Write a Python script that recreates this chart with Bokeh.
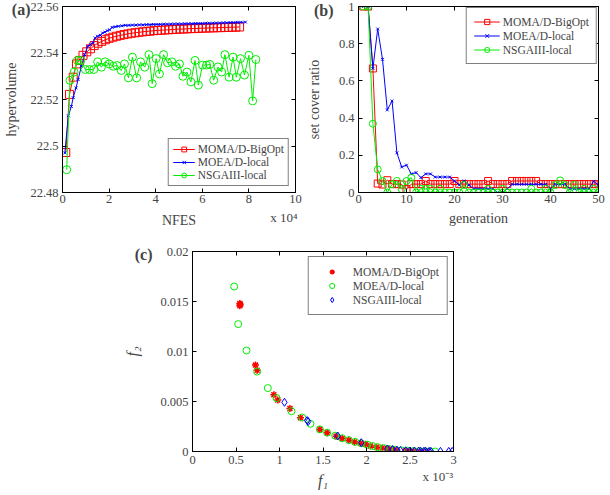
from bokeh.plotting import figure
from bokeh.models import Range1d, FixedTicker, LinearAxis, Legend, LegendItem, Spacer
from bokeh.layouts import column, row
from bokeh.embed import file_html
from bokeh.resources import INLINE

FONT = "Liberation Serif"
RED, BLUE, GREEN = "#ff0000", "#0000ff", "#00ee00"
NAMES = ["MOMA/D-BigOpt", "MOEA/D-local", "NSGAIII-local"]

# ---------------- panel (a): hypervolume vs NFES (x 10^4) ----------------
a_red_x = [0.14, 0.30, 0.46, 0.60, 0.74, 0.88, 1.04, 1.20, 1.36, 1.52,
           1.68, 1.84, 2.00, 2.16, 2.32, 2.48, 2.64, 2.80, 2.96, 3.12,
           3.28, 3.44, 3.60, 3.76, 3.92, 4.08, 4.24, 4.40, 4.56, 4.72,
           4.88, 5.04, 5.20, 5.36, 5.52, 5.68, 5.84, 6.00, 6.16, 6.32,
           6.48, 6.64, 6.80, 6.96, 7.12, 7.28, 7.44, 7.60]
a_red_y = [22.4972, 22.5222, 22.5296, 22.5353, 22.5368, 22.5390, 22.5405, 22.5418, 22.5432, 22.5442,
           22.5450, 22.5457, 22.5463, 22.5468, 22.5472, 22.5476, 22.5479, 22.5482, 22.5485, 22.5487,
           22.5489, 22.5491, 22.5493, 22.5494, 22.5496, 22.5497, 22.5498, 22.5499, 22.5500, 22.5501,
           22.5502, 22.5503, 22.5503, 22.5504, 22.5505, 22.5505, 22.5506, 22.5507, 22.5507, 22.5508,
           22.5508, 22.5509, 22.5509, 22.5510, 22.5510, 22.5511, 22.5511, 22.5512]
a_blue_x = [0.10, 0.25, 0.38, 0.46, 0.58, 0.67, 0.81, 0.95, 1.09, 1.20,
            1.30, 1.40, 1.50, 1.62, 1.72, 1.82, 1.92, 2.02, 2.13, 2.26,
            2.40, 2.55, 2.70, 2.85, 3.00, 3.15, 3.30, 3.45, 3.60, 3.75,
            3.90, 4.05, 4.20, 4.35, 4.50, 4.65, 4.80, 4.95, 5.10, 5.25,
            5.40, 5.55, 5.70, 5.85, 6.00, 6.15, 6.30, 6.45, 6.60, 6.75,
            6.90, 7.05, 7.20, 7.35, 7.50, 7.65, 7.85]
a_blue_y = [22.4970, 22.5130, 22.5170, 22.5208, 22.5250, 22.5286, 22.5343, 22.5393, 22.5429, 22.5436,
            22.5443, 22.5465, 22.5472, 22.5476, 22.5486, 22.5490, 22.5496, 22.5500, 22.5510, 22.5513,
            22.5515, 22.5517, 22.5519, 22.5519, 22.5520, 22.5520, 22.5521, 22.5521, 22.5522, 22.5522,
            22.5523, 22.5523, 22.5523, 22.5524, 22.5524, 22.5524, 22.5525, 22.5525, 22.5525, 22.5526,
            22.5526, 22.5526, 22.5527, 22.5527, 22.5527, 22.5528, 22.5528, 22.5528, 22.5529, 22.5529,
            22.5530, 22.5530, 22.5531, 22.5531, 22.5532, 22.5532, 22.5533]
a_green_x = [0.18, 0.32, 0.50, 0.64, 0.78, 0.98, 1.16, 1.34, 1.51, 1.67,
             1.83, 2.00, 2.18, 2.34, 2.52, 2.66, 2.83, 3.00, 3.18, 3.35,
             3.53, 3.71, 3.85, 4.02, 4.16, 4.34, 4.51, 4.69, 4.85, 5.02,
             5.17, 5.34, 5.51, 5.69, 5.83, 6.01, 6.18, 6.32, 6.49, 6.67,
             6.83, 6.97, 7.15, 7.32, 7.46, 7.64, 7.81, 8.00, 8.16, 8.30]
a_green_y = [22.4898, 22.5282, 22.5318, 22.5368, 22.5368, 22.5329, 22.5329, 22.5329, 22.5362, 22.5339,
             22.5362, 22.5353, 22.5343, 22.5346, 22.5325, 22.5353, 22.5293, 22.5382, 22.5293, 22.5362,
             22.5339, 22.5393, 22.5268, 22.5376, 22.5310, 22.5393, 22.5358, 22.5362, 22.5343, 22.5353,
             22.5300, 22.5318, 22.5276, 22.5368, 22.5262, 22.5348, 22.5348, 22.5351, 22.5283, 22.5340,
             22.5318, 22.5393, 22.5296, 22.5382, 22.5296, 22.5376, 22.5305, 22.5390, 22.5194, 22.5372]
a_xticks = [0, 2, 4, 6, 8, 10]
a_xlabels = ["0", "2", "4", "6", "8", "10"]
a_yticks = [22.48, 22.5, 22.52, 22.54, 22.56]
a_ylabels = ["22.48", "22.5", "22.52", "22.54", "22.56"]

# ---------------- panel (b): set cover ratio vs generation ----------------
b_gen = [1, 2, 3, 4, 5, 6, 7, 8, 9, 10, 11, 12, 13, 14, 15, 16, 17, 18, 19, 20,
         21, 22, 23, 24, 25, 26, 27, 28, 29, 30, 31, 32, 33, 34, 35, 36, 37, 38, 39, 40,
         41, 42, 43, 44, 45, 46, 47, 48, 49, 50]
b_red = [1.0, 1.0, 0.667, 0.048, 0.043, 0.066, 0.045, 0.045, 0.043, 0.018,
         0.045, 0.045, 0.045, 0.062, 0.045, 0.045, 0.045, 0.045, 0.045, 0.062,
         0.045, 0.045, 0.045, 0.045, 0.045, 0.045, 0.062, 0.045, 0.045, 0.045,
         0.045, 0.062, 0.062, 0.062, 0.062, 0.062, 0.062, 0.045, 0.045, 0.045,
         0.045, 0.045, 0.045, 0.045, 0.045, 0.045, 0.045, 0.045, 0.045, 0.045]
b_blue = [1.0, 1.0, 0.667, 0.879, 0.716, 0.444, 0.492, 0.213, 0.137, 0.147,
          0.100, 0.107, 0.080, 0.100, 0.100, 0.083, 0.083, 0.083, 0.083, 0.062,
          0.040, 0.062, 0.040, 0.020, 0.020, 0.020, 0.020, 0.020, 0.0, 0.0,
          0.020, 0.044, 0.044, 0.044, 0.044, 0.044, 0.044, 0.044, 0.044, 0.020,
          0.044, 0.044, 0.044, 0.020, 0.020, 0.020, 0.020, 0.020, 0.060, 0.040]
b_green = [1.0, 1.0, 0.370, 0.124, 0.062, 0.0, 0.044, 0.062, 0.018, 0.062,
           0.080, 0.0, 0.020, 0.020, 0.020, 0.0, 0.020, 0.0, 0.0, 0.0,
           0.0, 0.040, 0.0, 0.0, 0.0, 0.0, 0.020, 0.0, 0.0, 0.020,
           0.0, 0.0, 0.0, 0.0, 0.0, 0.020, 0.0, 0.0, 0.020, 0.0,
           0.040, 0.065, 0.040, 0.0, 0.040, 0.0, 0.020, 0.0, 0.020, 0.0]
b_xticks = [0, 10, 20, 30, 40, 50]
b_xlabels = ["0", "10", "20", "30", "40", "50"]
b_yticks = [0, 0.2, 0.4, 0.6, 0.8, 1]
b_ylabels = ["0", "0.2", "0.4", "0.6", "0.8", "1"]

# ---------------- panel (c): f2 vs f1 (f1 in units of 10^-3) ----------------
c_red_f1 = [0.544, 0.544, 0.548, 0.724, 0.743, 0.935, 0.980, 1.120, 1.241, 1.464,
            1.548, 1.650, 1.720, 1.797, 1.862, 1.930, 1.989, 2.046, 2.115, 2.180,
            2.240, 2.295, 2.350, 2.448, 2.500, 2.560, 2.630, 2.700]
c_red_f2 = [0.0148, 0.01458, 0.0147, 0.00864, 0.00812, 0.00567, 0.00515, 0.0043, 0.00337, 0.00221,
            0.00188, 0.00152, 0.00129, 0.00112, 0.00096, 0.00083, 0.00073, 0.00056, 0.00043, 0.00036,
            0.00028, 0.00023, 0.00016, 0.00007, 0.00005, 0.00003, 0.00002, 0.00001]
c_green_f1 = [0.479, 0.525, 0.621, 0.743, 0.866, 0.966, 1.138, 1.262, 1.356, 1.464,
              1.548, 1.640, 1.720, 1.797, 1.870, 1.940, 2.010, 2.070, 2.130, 2.200,
              2.260, 2.330, 2.400, 2.470, 2.540, 2.600, 2.670, 2.730, 2.790]
c_green_f2 = [0.0165, 0.01274, 0.0101, 0.00799, 0.00634, 0.00535, 0.00403, 0.0034, 0.00277, 0.00221,
              0.00188, 0.00158, 0.00133, 0.00114, 0.00096, 0.00082, 0.00068, 0.00055, 0.00043, 0.00034,
              0.00025, 0.00018, 0.00012, 0.00008, 0.00005, 0.00003, 0.00002, 0.00001, 0.0]
c_blue_f1 = [1.057, 1.318, 1.330, 1.670, 1.940, 2.240, 2.300, 2.350, 2.390, 2.450,
             2.500, 2.550, 2.600, 2.620, 2.660, 2.680, 2.720, 2.740, 2.850, 2.946, 2.985]
c_blue_f2 = [0.00492, 0.0031, 0.0030, 0.00155, 0.00088, 0.00025, 0.0002, 0.00013, 0.0001, 0.00007,
             0.00005, 0.00004, 0.00003, 0.00003, 0.00002, 0.00002, 0.00001, 0.00001, 0.00001, 0.00001, 0.00001]
c_xticks = [0, 0.5, 1, 1.5, 2, 2.5, 3]
c_xlabels = ["0", "0.5", "1", "1.5", "2", "2.5", "3"]
c_yticks = [0, 0.005, 0.01, 0.015, 0.02]
c_ylabels = ["0", "0.005", "0.01", "0.015", "0.02"]

TICK_SIZE = "12.5px"
LABEL_SIZE = "14px"


def make_fig(xr, yr, fw, fh, mbl, mbr, mbt, mbb):
    p = figure(frame_width=fw, frame_height=fh, x_range=Range1d(*xr), y_range=Range1d(*yr),
               output_backend="svg", toolbar_location=None,
               min_border_left=mbl, min_border_right=mbr, min_border_top=mbt, min_border_bottom=mbb)
    p.grid.visible = False
    p.outline_line_color = "black"
    p.outline_line_width = 1
    p.background_fill_color = "white"
    p.border_fill_color = "white"
    return p


def style_axes(p, xt, xl, yt, yl, xlab=None, xstand=5, xls=2):
    xa, ya = p.xaxis[0], p.yaxis[0]
    xa.ticker = FixedTicker(ticks=xt)
    ya.ticker = FixedTicker(ticks=yt)
    xa.major_label_overrides = {float(t): s for t, s in zip(xt, xl)}
    ya.major_label_overrides = {float(t): s for t, s in zip(yt, yl)}
    for ax in (xa, ya):
        ax.major_label_text_font = FONT
        ax.major_label_text_font_size = TICK_SIZE
        ax.major_tick_in = 4
        ax.major_tick_out = 0
        ax.minor_tick_line_color = None
        ax.axis_line_color = "black"
        ax.major_tick_line_color = "black"
    if xlab:
        xa.axis_label = xlab
        xa.axis_label_text_font = FONT
        xa.axis_label_text_font_size = LABEL_SIZE
        xa.axis_label_text_font_style = "normal"
        xa.axis_label_standoff = xstand
    xa.major_label_standoff = xls
    ya.major_label_standoff = 4
    # MATLAB-style box: inward ticks on the top and right too
    for t, place in ((xt, "above"), (yt, "right")):
        m = LinearAxis(ticker=FixedTicker(ticks=t), major_label_text_font_size="0px",
                       major_label_text_color=None,
                       major_label_standoff=0, major_tick_in=4, major_tick_out=0,
                       minor_tick_line_color=None, axis_line_color="black")
        p.add_layout(m, place)


def text_axis(p, place, ticks, labels, standoff, size, style="normal",
              label=None, label_standoff=0, label_size=LABEL_SIZE, label_style="normal"):
    """An axis without line or ticks, used only to carry texts outside the frame."""
    ax = LinearAxis(ticker=FixedTicker(ticks=ticks),
                    major_label_overrides={float(t): s for t, s in zip(ticks, labels)},
                    major_label_standoff=standoff, major_label_text_font=FONT,
                    major_label_text_font_size=size, major_label_text_font_style=style,
                    major_tick_in=0, major_tick_out=0, major_tick_line_color=None,
                    minor_tick_line_color=None, axis_line_color=None)
    if label:
        ax.axis_label = label
        ax.axis_label_text_font = FONT
        ax.axis_label_text_font_size = label_size
        ax.axis_label_text_font_style = label_style
        ax.axis_label_standoff = label_standoff
    p.add_layout(ax, place)


def make_legend(items, location, margin, padding, gw, gh, lh, spacing, standoff):
    return Legend(items=items, location=location, margin=margin, padding=padding,
                  glyph_width=gw, glyph_height=gh, label_height=lh, spacing=spacing,
                  label_standoff=standoff, label_text_font=FONT, label_text_font_size="11.5px",
                  border_line_color="black", border_line_width=1, background_fill_color="white",
                  background_fill_alpha=1.0)


# ---------- (a)
pa = make_fig((0, 10), (22.48, 22.56), 233, 186, 54, 8, 6, 50)
style_axes(pa, a_xticks, a_xlabels, a_yticks, a_ylabels)
text_axis(pa, "left", [22.5585], ["(a)"], -3, "16px", "bold",
          label="hypervolume", label_standoff=-10)
text_axis(pa, "below", [9.5], ["x 10\u2074"], 4, "13px",
          label="NFES", label_standoff=-15)
lr = pa.line(a_red_x, a_red_y, line_color=RED, line_width=1)
sr = pa.scatter(a_red_x, a_red_y, marker="square", size=8, line_color=RED, fill_color=None, line_width=1)
lb = pa.line(a_blue_x, a_blue_y, line_color=BLUE, line_width=1)
sb = pa.scatter(a_blue_x, a_blue_y, marker="x", size=4, line_color=BLUE, line_width=1)
lg = pa.line(a_green_x, a_green_y, line_color=GREEN, line_width=1)
sg = pa.scatter(a_green_x, a_green_y, marker="circle", size=8, line_color=GREEN, fill_color=None, line_width=1)
pa.add_layout(make_legend([LegendItem(label=NAMES[0], renderers=[lr, sr]),
                           LegendItem(label=NAMES[1], renderers=[lb, sb]),
                           LegendItem(label=NAMES[2], renderers=[lg, sg])],
                          "bottom_right", 6, 4, 22, 12, 12, 1, 3))

# ---------- (b)
pb = make_fig((0, 50), (0, 1), 240, 186, 47, 8, 6, 50)
style_axes(pb, b_xticks, b_xlabels, b_yticks, b_ylabels, xlab="generation", xstand=5)
text_axis(pb, "left", [0.981], ["(b)"], 2, "16px", "bold",
          label="set cover ratio", label_standoff=-11)
lr = pb.line(b_gen, b_red, line_color=RED, line_width=1)
sr = pb.scatter(b_gen, b_red, marker="square", size=7, line_color=RED, fill_color=None, line_width=1)
lb = pb.line(b_gen, b_blue, line_color=BLUE, line_width=1)
sb = pb.scatter(b_gen, b_blue, marker="x", size=4, line_color=BLUE, line_width=1)
lg = pb.line(b_gen, b_green, line_color=GREEN, line_width=1)
sg = pb.scatter(b_gen, b_green, marker="circle", size=7, line_color=GREEN, fill_color=None, line_width=1)
pb.add_layout(make_legend([LegendItem(label=NAMES[0], renderers=[lr, sr]),
                           LegendItem(label=NAMES[1], renderers=[lb, sb]),
                           LegendItem(label=NAMES[2], renderers=[lg, sg])],
                          "top_right", 1, 7, 26, 13, 13, 1, 3))

# ---------- (c)
pc = make_fig((0, 3), (0, 0.02), 261, 200, 64, 10, 9, 40)
style_axes(pc, c_xticks, c_xlabels, c_yticks, c_ylabels, xls=4)
text_axis(pc, "left", [0.01975], ["(c)"], 5, "16px", "bold",
          label="f\u2082", label_standoff=-9, label_size="16px", label_style="italic")
text_axis(pc, "below", [2.82], ["x 10\u207b\u00b3"], 2, "13px",
          label="f\u2081", label_standoff=-15, label_size="16px", label_style="italic")
rc = pc.scatter(c_red_f1, c_red_f2, marker="asterisk", size=7, line_color=RED, line_width=1.5)
gc = pc.scatter(c_green_f1, c_green_f2, marker="circle", size=7, line_color=GREEN, fill_color=None, line_width=1)
bc = pc.scatter(c_blue_f1, c_blue_f2, marker="diamond", size=8, line_color=BLUE, fill_color=None, line_width=1)
pc.add_layout(make_legend([LegendItem(label=NAMES[0], renderers=[rc]),
                           LegendItem(label=NAMES[1], renderers=[gc]),
                           LegendItem(label=NAMES[2], renderers=[bc])],
                          "top_right", 5, 8, 30, 13, 13, 1, 6))

layout = column(row(pa, pb), row(Spacer(width=120, height=10), pc))
open("out.html", "w").write(file_html(layout, INLINE))
